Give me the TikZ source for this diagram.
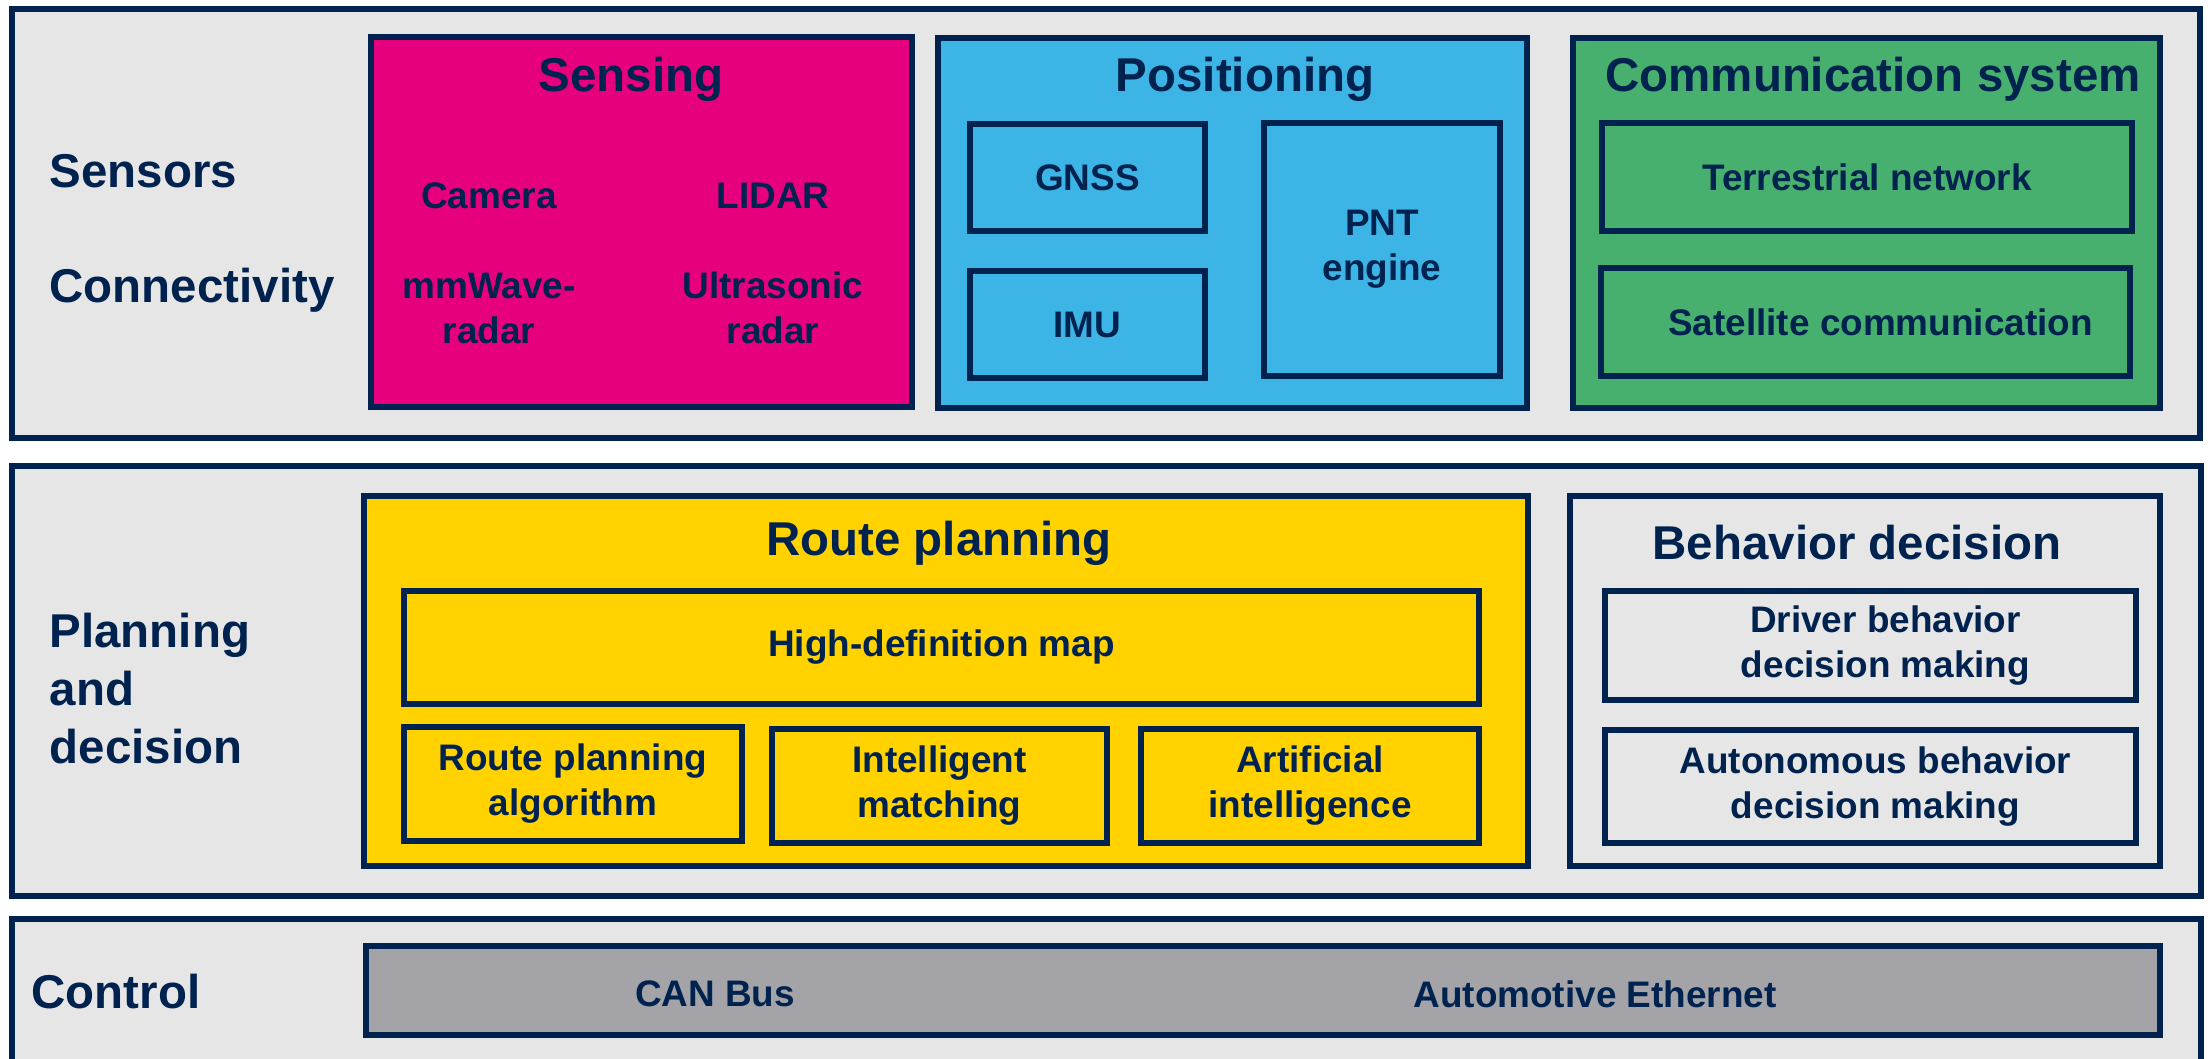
\documentclass[tikz,border=0pt]{standalone}
\usepackage{fontspec}
\setmainfont{Liberation Sans}
\usetikzlibrary{positioning}
\definecolor{cNavy}{RGB}{0,34,78}
\definecolor{cBand}{RGB}{230,230,230}
\definecolor{cSensing}{RGB}{230,0,126}
\definecolor{cPosition}{RGB}{61,180,230}
\definecolor{cComm}{RGB}{72,176,111}
\definecolor{cRoute}{RGB}{255,210,0}
\definecolor{cBus}{RGB}{163,163,168}
\newcommand{\titleFont}{\fontsize{13.5pt}{16.5pt}\selectfont\bfseries}
\newcommand{\itemFont}{\fontsize{10.5pt}{12.8pt}\selectfont\bfseries}
\tikzset{
    layerBand/.style={
        rectangle, draw=cNavy, line width=0.6mm,
        fill=cBand, inner sep=0pt
    },
    groupBox/.style={
        rectangle, draw=cNavy, line width=0.6mm, inner sep=0pt
    },
    itemBox/.style={
        rectangle, draw=cNavy, line width=0.6mm, inner sep=0pt,
        align=center, text=cNavy, font=\itemFont
    },
    groupTitle/.style={
        font=\titleFont, text=cNavy
    },
    itemText/.style={
        font=\itemFont, text=cNavy, align=center
    },
    layerLabel/.style={
        font=\titleFont, text=cNavy, align=left, anchor=west, inner sep=0pt
    }
}

\begin{document}
\begin{tikzpicture}[y=-1cm]

	\useasboundingbox (0,0) rectangle (22.08,10.58);
	\clip (0,0) rectangle (22.08,10.58);

	% =========================================================
	% Layer Bands
	% =========================================================

	\node [layerBand, minimum width=21.88cm, minimum height=4.29cm] (bandSensors) at (11.06,2.235) {};
	\node [layerBand, minimum width=21.89cm, minimum height=4.30cm] (bandPlanning) at (11.065,6.81) {};
	\node [layerBand, minimum width=21.89cm, minimum height=1.56cm] (bandControl) at (11.065,9.97) {};

	\node [layerLabel] (lblSensors) at (0.49,1.71) {Sensors};
	\node [layerLabel] (lblConnect) at (0.49,2.90) {Connectivity};
	\node [layerLabel] (lblPlanning) at (0.49,6.89) {Planning\\and\\decision};
	\node [layerLabel] (lblControl) at (0.31,9.92) {Control};

	% =========================================================
	% Sensors and Connectivity
	% =========================================================

	\node [groupBox, fill=cSensing, minimum width=5.41cm, minimum height=3.70cm] (sensing) at (6.415,2.22) {};
	\node [groupTitle] (sensingTitle) at (6.31,0.79) {Sensing};
	\node [itemText] (camera) at (4.89,1.96) {Camera};
	\node [itemText] (lidar) at (7.73,1.96) {LIDAR};
	\node [itemText] (mmwave) at (4.89,3.08) {mmWave-\\radar};
	\node [itemText] (ultrasonic) at (7.73,3.08) {Ultrasonic\\radar};

	\node [groupBox, fill=cPosition, minimum width=5.89cm, minimum height=3.70cm] (positioning) at (12.325,2.23) {};
	\node [groupTitle] (positioningTitle) at (12.45,0.79) {Positioning};
	\node [itemBox, minimum width=2.35cm, minimum height=1.07cm] (gnss) at (10.875,1.775) {GNSS};
	\node [itemBox, minimum width=2.35cm, minimum height=1.07cm] (imu) at (10.875,3.245) {IMU};
	\node [itemBox, minimum width=2.36cm, minimum height=2.53cm] (pnt) at (13.82,2.495) {PNT\\engine};

	\node [groupBox, fill=cComm, minimum width=5.87cm, minimum height=3.70cm] (comm) at (18.665,2.23) {};
	\node [groupTitle] (commTitle) at (18.73,0.79) {Communication system};
	\node [itemBox, minimum width=5.30cm, minimum height=1.08cm] (terrestrial) at (18.67,1.77) {Terrestrial network};
	\node [itemBox, minimum width=5.29cm, minimum height=1.08cm] (satellite) at (18.655,3.22) {\hspace{0.3cm}Satellite communication};

	% =========================================================
	% Planning and Decision
	% =========================================================

	\node [groupBox, fill=cRoute, minimum width=11.64cm, minimum height=3.70cm] (route) at (9.46,6.81) {};
	\node [groupTitle] (routeTitle) at (9.39,5.43) {Route planning};
	\node [itemBox, minimum width=10.75cm, minimum height=1.13cm] (hdmap) at (9.415,6.475) {High-definition map};
	\node [itemBox, minimum width=3.38cm, minimum height=1.14cm] (routeAlgo) at (5.73,7.84) {Route planning\\algorithm};
	\node [itemBox, minimum width=3.35cm, minimum height=1.14cm] (matching) at (9.395,7.86) {Intelligent\\matching};
	\node [itemBox, minimum width=3.38cm, minimum height=1.14cm] (ai) at (13.10,7.86) {Artificial\\intelligence};

	\node [groupBox, fill=cBand, minimum width=5.90cm, minimum height=3.70cm] (behavior) at (18.65,6.81) {};
	\node [groupTitle] (behaviorTitle) at (18.57,5.43) {Behavior decision};
	\node [itemBox, minimum width=5.31cm, minimum height=1.09cm] (driver) at (18.705,6.455) {\hspace{0.3cm}Driver behavior\\\hspace{0.3cm}decision making};
	\node [itemBox, minimum width=5.31cm, minimum height=1.13cm] (autonomous) at (18.705,7.865) {\hspace{0.1cm}Autonomous behavior\\\hspace{0.1cm}decision making};

	% =========================================================
	% Control
	% =========================================================

	\node [groupBox, fill=cBus, minimum width=17.94cm, minimum height=0.89cm] (bus) at (12.63,9.905) {};
	\node [itemText] (canBus) at (7.15,9.94) {CAN Bus};
	\node [itemText] (ethernet) at (15.95,9.94) {Automotive Ethernet};

\end{tikzpicture}
\end{document}
